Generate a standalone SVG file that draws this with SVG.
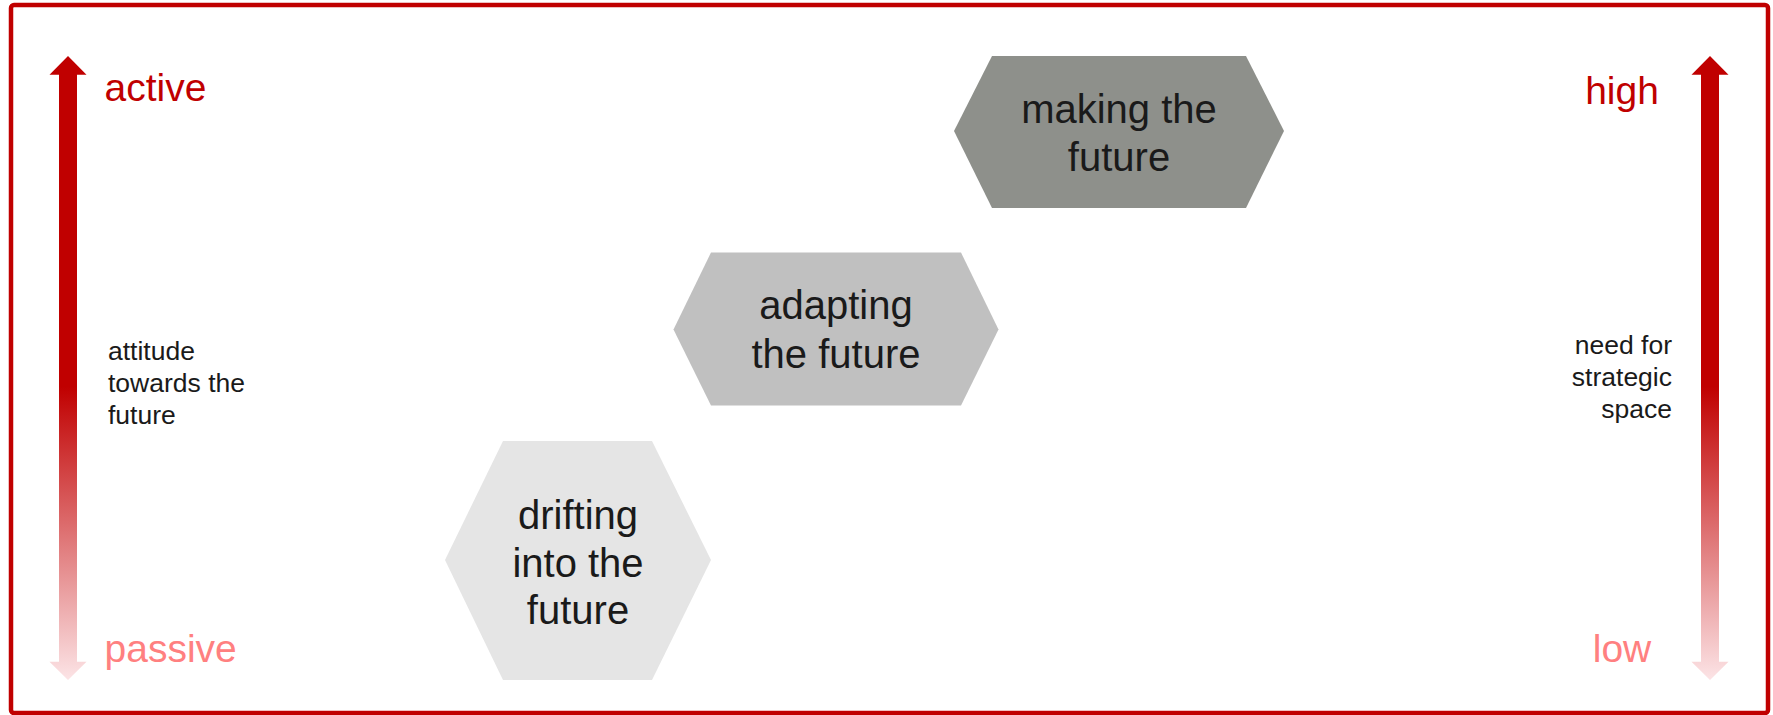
<svg xmlns="http://www.w3.org/2000/svg" width="1773" height="715" viewBox="0 0 1773 715">
  <defs>
    <linearGradient id="fade" gradientUnits="userSpaceOnUse" x1="0" y1="56" x2="0" y2="680">
      <stop offset="0" stop-color="#C00000"/>
      <stop offset="0.53" stop-color="#C00000"/>
      <stop offset="1" stop-color="#FCE4E6"/>
    </linearGradient>
    <style>
      .hex-text { font-family: "Liberation Sans", Arial, sans-serif; font-size: 40px; fill: #1A1A1A; text-anchor: middle; }
      .side { font-family: "Liberation Sans", Arial, sans-serif; font-size: 26.5px; fill: #1A1A1A; }
      .corner { font-family: "Liberation Sans", Arial, sans-serif; font-size: 39px; }
      .hi { fill: #C00000; }
      .lo { fill: #FF8080; }
    </style>
  </defs>
  <rect x="0" y="0" width="1773" height="715" fill="#FFFFFF"/>
  <rect id="frame" x="11" y="5" width="1757" height="708" rx="3" fill="none" stroke="#C00000" stroke-width="4.5"/>

  <g id="connectors">
    <polygon id="arrow-left" fill="url(#fade)" points="68,56 86.5,74.7 77,74.7 77,661.7 86.5,661.7 68,680 49.5,661.7 59,661.7 59,74.7 49.5,74.7"/>
    <polygon id="arrow-right" fill="url(#fade)" points="1710,56 1728.5,74.7 1719,74.7 1719,661.7 1728.5,661.7 1710,680 1691.5,661.7 1701,661.7 1701,74.7 1691.5,74.7"/>
  </g>

  <g id="label-active"><text class="corner hi" x="104.5" y="101">active</text></g>
  <g id="label-passive"><text class="corner lo" x="104.5" y="662">passive</text></g>
  <g id="label-high"><text class="corner hi" x="1622" y="104" text-anchor="middle">high</text></g>
  <g id="label-low"><text class="corner lo" x="1622" y="662" text-anchor="middle">low</text></g>

  <g id="label-attitude">
    <text class="side" x="108" y="360">attitude</text>
    <text class="side" x="108" y="392">towards the</text>
    <text class="side" x="108" y="423.5">future</text>
  </g>
  <g id="label-need">
    <text class="side" x="1672" y="353.5" text-anchor="end">need for</text>
    <text class="side" x="1672" y="386" text-anchor="end">strategic</text>
    <text class="side" x="1672" y="417.5" text-anchor="end">space</text>
  </g>

  <g id="node-making">
    <polygon points="954,131 992,56 1246,56 1284,131 1246,208 992,208" fill="#8E908B"/>
    <text class="hex-text" x="1119" y="123">making the</text>
    <text class="hex-text" x="1119" y="170.5">future</text>
  </g>
  <g id="node-adapting">
    <polygon points="673.5,329.5 711,252.5 961,252.5 998.5,329.5 961,405.5 711,405.5" fill="#C0C0C0"/>
    <text class="hex-text" x="836" y="319">adapting</text>
    <text class="hex-text" x="836" y="367.5">the future</text>
  </g>
  <g id="node-drifting">
    <polygon points="445,560 503,441 652,441 711,560 652,680 503,680" fill="#E5E5E5"/>
    <text class="hex-text" x="578" y="528.5">drifting</text>
    <text class="hex-text" x="578" y="576.5">into the</text>
    <text class="hex-text" x="578" y="624">future</text>
  </g>
</svg>
